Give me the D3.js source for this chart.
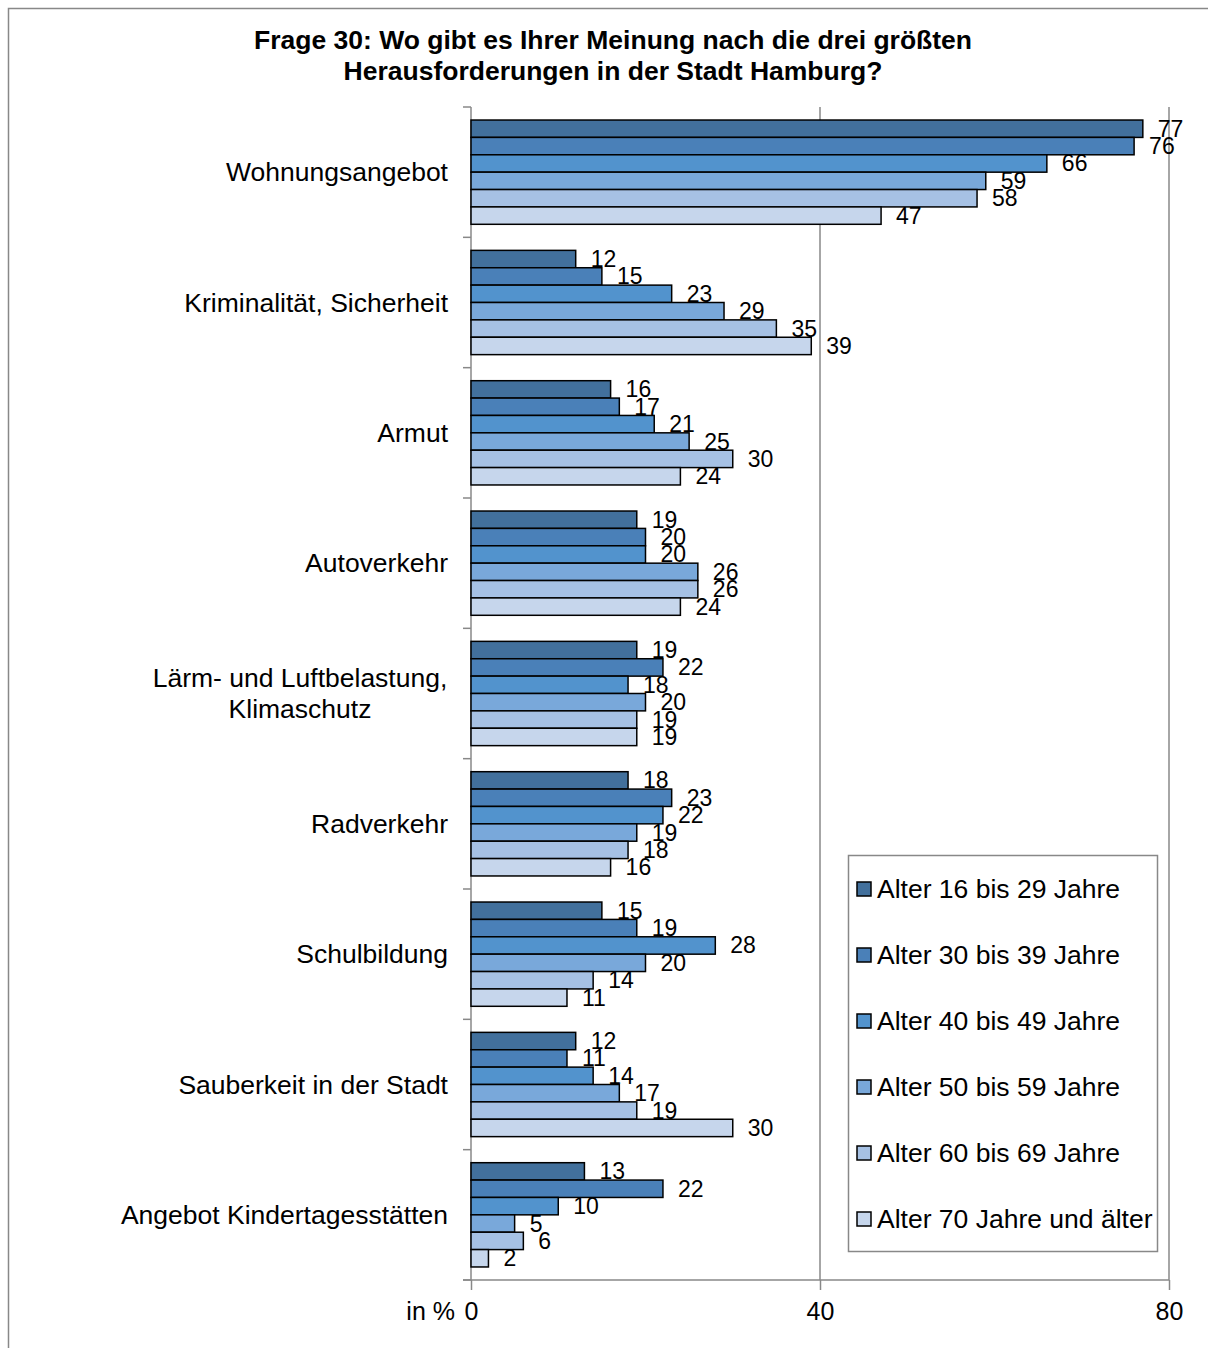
<!DOCTYPE html>
<html>
<head>
<meta charset="UTF-8">
<style>
  body { margin: 0; background: #fff; font-family: "Liberation Sans", Arial, sans-serif; }
  svg { display: block; }
</style>
</head>
<body>
<svg id="chart" width="1208" height="1348"></svg>
<script src="https://d3js.org/d3.v7.min.js"></script>
<script>
const categories = [
  "Wohnungsangebot",
  "Kriminalität, Sicherheit",
  "Armut",
  "Autoverkehr",
  "Lärm- und Luftbelastung,\nKlimaschutz",
  "Radverkehr",
  "Schulbildung",
  "Sauberkeit in der Stadt",
  "Angebot Kindertagesstätten"
];
const seriesNames = [
  "Alter 16 bis 29 Jahre",
  "Alter 30 bis 39 Jahre",
  "Alter 40 bis 49 Jahre",
  "Alter 50 bis 59 Jahre",
  "Alter 60 bis 69 Jahre",
  "Alter 70 Jahre und älter"
];
const age16_29 = [77, 12, 16, 19, 19, 18, 15, 12, 13];
const age30_39 = [76, 15, 17, 20, 22, 23, 19, 11, 22];
const age40_49 = [66, 23, 21, 20, 18, 22, 28, 14, 10];
const age50_59 = [59, 29, 25, 26, 20, 19, 20, 17, 5];
const age60_69 = [58, 35, 30, 26, 19, 18, 14, 19, 6];
const age70plus = [47, 39, 24, 24, 19, 16, 11, 30, 2];
const xTicks = [0, 40, 80];

const series = [age16_29, age30_39, age40_49, age50_59, age60_69, age70plus];
const colors = ["#42709c", "#4a80b8", "#5293cd", "#79a8da", "#a6c1e4", "#c6d6ec"];

const svg = d3.select("#chart");
const pLeft = 471, pRight = 1169, pTop = 107, pBottom = 1280;

// outer frame
svg.append("rect").attr("x", 8.5).attr("y", 8.5).attr("width", 1210).attr("height", 1350)
  .attr("fill", "none").attr("stroke", "#888").attr("stroke-width", 1.5);

svg.append("text").attr("x", 613).attr("y", 49).attr("text-anchor", "middle")
  .attr("font-size", 26.5).attr("font-weight", "bold").text("Frage 30: Wo gibt es Ihrer Meinung nach die drei größten");
svg.append("text").attr("x", 613).attr("y", 80).attr("text-anchor", "middle")
  .attr("font-size", 26.5).attr("font-weight", "bold").text("Herausforderungen in der Stadt Hamburg?");

const x = d3.scaleLinear().domain([0, 80]).range([pLeft, pRight]);
const y = d3.scaleBand().domain(categories).range([pTop, pBottom]).paddingInner(0.2).paddingOuter(0.1);
const y1 = d3.scaleBand().domain(d3.range(6)).range([0, y.bandwidth()]);
const yOuter = d3.scaleBand().domain(categories).range([pTop, pBottom]);

// gridlines
svg.append("g").selectAll("line").data(xTicks.slice(1)).join("line")
  .attr("x1", d => x(d)).attr("x2", d => x(d)).attr("y1", pTop).attr("y2", pBottom)
  .attr("stroke", "#888").attr("stroke-width", 1.5);

// x axis
const xAxis = svg.append("g").attr("transform", `translate(0,${pBottom})`)
  .call(d3.axisBottom(x).tickValues(xTicks).tickSize(10).tickPadding(12));
xAxis.select(".domain").attr("stroke", "#888").attr("stroke-width", 1.5).attr("d", `M${pLeft - 8},0H${pRight}`);
xAxis.selectAll(".tick line").attr("stroke", "#888").attr("stroke-width", 1.5);
xAxis.selectAll(".tick text").attr("font-size", 25).attr("font-family", "Liberation Sans, Arial, sans-serif").attr("fill", "#000");
svg.append("text").attr("x", 455).attr("y", 1320).attr("text-anchor", "end").attr("font-size", 25).text("in %");

// y axis
const yAxis = svg.append("g").attr("transform", `translate(${pLeft},0)`)
  .call(d3.axisLeft(yOuter).tickSize(8).tickFormat(""));
yAxis.select(".domain").attr("stroke", "#888").attr("stroke-width", 1.5).attr("d", `M0,${pTop}V${pBottom}`);
yAxis.selectAll(".tick").remove();
const bounds = yOuter.domain().map(d => yOuter(d)).concat([pBottom]);
yAxis.selectAll(".tk").data(bounds).join("line").attr("class", "tk")
  .attr("x1", -8).attr("x2", 0).attr("y1", d => d).attr("y2", d => d)
  .attr("stroke", "#888").attr("stroke-width", 1.5);

// category labels
categories.forEach(c => {
  const lines = c.split("\n");
  const cy = y(c) + y.bandwidth() / 2;
  const t = svg.append("text").attr("font-size", 26.5)
    .attr("text-anchor", lines.length > 1 ? "middle" : "end");
  lines.forEach((l, i) => {
    t.append("tspan").attr("x", lines.length > 1 ? 300 : 448)
      .attr("y", cy + 9 + (i - (lines.length - 1) / 2) * 31).text(l);
  });
});

// bars
const groups = svg.append("g").selectAll("g").data(categories).join("g")
  .attr("transform", d => `translate(0,${y(d)})`);
groups.selectAll("rect").data((d, ci) => series.map((s, si) => ({ si, v: s[ci] }))).join("rect")
  .attr("x", x(0)).attr("y", d => y1(d.si))
  .attr("width", d => x(d.v) - x(0)).attr("height", y1.bandwidth())
  .attr("fill", d => colors[d.si]).attr("stroke", "#000").attr("stroke-width", 1.5);
groups.selectAll("text").data((d, ci) => series.map((s, si) => ({ si, v: s[ci] }))).join("text")
  .attr("x", d => x(d.v) + 15).attr("y", d => y1(d.si) + y1.bandwidth() / 2 + 8)
  .attr("font-size", 23).text(d => d.v);

// legend
svg.append("rect").attr("x", 848.5).attr("y", 855.5).attr("width", 309).attr("height", 396)
  .attr("fill", "#fff").attr("stroke", "#888").attr("stroke-width", 1.5);
const leg = svg.append("g").selectAll("g").data(seriesNames).join("g")
  .attr("transform", (d, i) => `translate(857,${889 + i * 66})`);
leg.append("rect").attr("x", 0).attr("y", -7).attr("width", 14).attr("height", 14)
  .attr("fill", (d, i) => colors[i]).attr("stroke", "#000").attr("stroke-width", 1.5);
leg.append("text").attr("x", 20).attr("y", 9).attr("font-size", 26.5).text(d => d);
</script>
</body>
</html>
